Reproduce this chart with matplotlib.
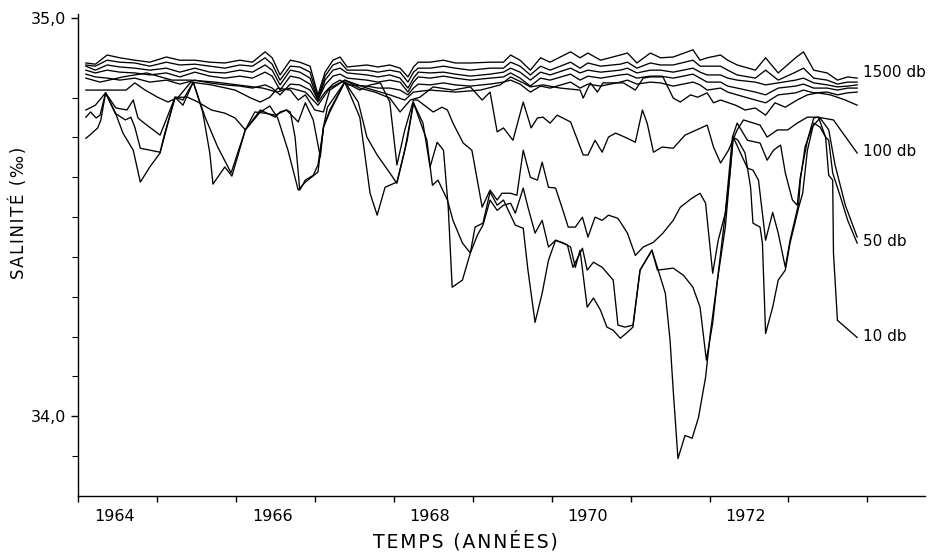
import matplotlib.pyplot as plt
from matplotlib.ticker import FixedLocator, NullFormatter

# salinity (per mille) at several pressures, time in decimal years
t10 = [1964.10, 1964.15, 1964.25, 1964.29, 1964.35, 1964.47, 1964.57, 1964.70, 1964.79, 1964.91,
       1965.04, 1965.14, 1965.23, 1965.33, 1965.46, 1965.58, 1965.67, 1965.71, 1965.86, 1965.95,
       1966.12, 1966.31, 1966.43, 1966.53, 1966.66, 1966.79, 1966.88, 1967.04, 1967.07, 1967.11,
       1967.19, 1967.38, 1967.57, 1967.70, 1967.79, 1967.89, 1968.04, 1968.17, 1968.25, 1968.37,
       1968.46, 1968.55, 1968.63, 1968.69, 1968.74, 1968.87, 1968.97, 1969.03, 1969.13, 1969.22,
       1969.31, 1969.39, 1969.48, 1969.54, 1969.64, 1969.70, 1969.79, 1969.88, 1969.96, 1970.05,
       1970.15, 1970.24, 1970.30, 1970.36, 1970.45, 1970.53, 1970.62, 1970.70, 1970.78, 1970.87,
       1970.96, 1971.03, 1971.12, 1971.27, 1971.35, 1971.44, 1971.50, 1971.54, 1971.60, 1971.69,
       1971.78, 1971.86, 1971.95, 1972.01, 1972.10, 1972.16, 1972.26, 1972.30, 1972.36, 1972.45,
       1972.52, 1972.55, 1972.64, 1972.67, 1972.71, 1972.80, 1972.87, 1972.96, 1973.02, 1973.09,
       1973.13, 1973.18, 1973.24, 1973.32, 1973.40, 1973.47, 1973.51, 1973.56, 1973.57, 1973.62,
       1973.87]
s10 = [34.698, 34.706, 34.724, 34.744, 34.812, 34.764, 34.711, 34.668, 34.588, 34.626,
       34.661, 34.736, 34.801, 34.781, 34.839, 34.764, 34.661, 34.583, 34.626, 34.603,
       34.719, 34.764, 34.779, 34.749, 34.668, 34.568, 34.588, 34.613, 34.661, 34.726,
       34.764, 34.839, 34.751, 34.560, 34.505, 34.575, 34.588, 34.693, 34.787, 34.736,
       34.626, 34.688, 34.668, 34.525, 34.324, 34.342, 34.410, 34.475, 34.485, 34.563,
       34.530, 34.543, 34.505, 34.480, 34.472, 34.367, 34.236, 34.309, 34.392, 34.442,
       34.435, 34.425, 34.374, 34.417, 34.274, 34.297, 34.266, 34.224, 34.216, 34.196,
       34.211, 34.224, 34.367, 34.417, 34.367, 34.309, 34.191, 34.065, 33.894, 33.952,
       33.945, 33.997, 34.098, 34.208, 34.342, 34.442, 34.611, 34.701, 34.693, 34.661,
       34.575, 34.485, 34.475, 34.435, 34.208, 34.274, 34.342, 34.367, 34.435, 34.492,
       34.525, 34.560, 34.668, 34.736, 34.726, 34.701, 34.605, 34.593, 34.410, 34.241,
       34.198]

t30 = [1964.10, 1964.16, 1964.23, 1964.28, 1964.35, 1964.47, 1964.60, 1964.67, 1964.72, 1964.79,
       1965.04, 1965.10, 1965.23, 1965.33, 1965.46, 1965.61, 1965.77, 1965.94,
       1966.12, 1966.31, 1966.50, 1966.56, 1966.64, 1966.69, 1966.75, 1966.81, 1966.88, 1966.98,
       1967.04, 1967.11, 1967.19, 1967.38, 1967.55, 1967.66, 1967.79, 1967.95,
       1968.04, 1968.14, 1968.25, 1968.42, 1968.49, 1968.56, 1968.68, 1968.75, 1968.87, 1968.97,
       1969.06, 1969.13, 1969.22, 1969.31, 1969.39, 1969.48, 1969.54, 1969.64, 1969.70, 1969.79,
       1969.88, 1969.96,
       1970.05, 1970.20, 1970.27, 1970.39, 1970.45, 1970.53, 1970.64, 1970.78, 1970.84, 1970.93,
       1971.03, 1971.12, 1971.27, 1971.34, 1971.54, 1971.67, 1971.79, 1971.88, 1971.96,
       1972.04, 1972.10, 1972.20, 1972.26, 1972.30, 1972.48, 1972.55, 1972.62, 1972.71, 1972.80,
       1972.87, 1972.96,
       1973.02, 1973.13, 1973.15, 1973.21, 1973.30, 1973.40, 1973.51, 1973.59, 1973.72, 1973.87]
s30 = [34.751, 34.764, 34.749, 34.756, 34.812, 34.761, 34.744, 34.751, 34.726, 34.673,
       34.663, 34.711, 34.801, 34.794, 34.839, 34.751, 34.676, 34.611,
       34.719, 34.769, 34.751, 34.764, 34.769, 34.764, 34.701, 34.568, 34.593, 34.605,
       34.631, 34.726, 34.769, 34.839, 34.789, 34.701, 34.656, 34.611,
       34.585, 34.668, 34.787, 34.693, 34.580, 34.593, 34.543, 34.492, 34.435, 34.410,
       34.455, 34.480, 34.543, 34.517, 34.530, 34.535, 34.510, 34.573, 34.525, 34.460,
       34.492, 34.425,
       34.442, 34.430, 34.374, 34.422, 34.367, 34.387, 34.374, 34.342, 34.229, 34.224,
       34.229, 34.367, 34.417, 34.367, 34.372, 34.354, 34.324, 34.274, 34.141,
       34.234, 34.342, 34.475, 34.611, 34.701, 34.623, 34.618, 34.593, 34.442, 34.512,
       34.460, 34.374,
       34.442, 34.535, 34.593, 34.676, 34.726, 34.749, 34.719, 34.631, 34.530, 34.450]

t50 = [1964.10, 1964.22, 1964.35, 1964.48, 1964.62, 1964.70, 1964.76, 1964.82,
       1965.04, 1965.10, 1965.23, 1965.39, 1965.52, 1965.69, 1965.86, 1965.99,
       1966.12, 1966.24, 1966.37, 1966.50, 1966.64, 1966.79, 1966.88, 1966.98,
       1967.07, 1967.11, 1967.16, 1967.38, 1967.57, 1967.70, 1967.83, 1967.95,
       1968.04, 1968.14, 1968.25, 1968.30, 1968.50, 1968.61, 1968.68, 1968.75, 1968.88, 1968.99,
       1969.12, 1969.22, 1969.31, 1969.37, 1969.48, 1969.56, 1969.64, 1969.73, 1969.82, 1969.88,
       1969.96,
       1970.05, 1970.13, 1970.21, 1970.30, 1970.39, 1970.46, 1970.55, 1970.64, 1970.72, 1970.84,
       1970.96,
       1971.06, 1971.16, 1971.29, 1971.41, 1971.54, 1971.63, 1971.78, 1971.88, 1971.95,
       1972.04, 1972.11, 1972.20, 1972.29, 1972.35, 1972.48, 1972.64, 1972.73, 1972.81, 1972.90,
       1972.96,
       1973.05, 1973.11, 1973.15, 1973.24, 1973.32, 1973.38, 1973.47, 1973.51, 1973.56, 1973.66,
       1973.75, 1973.87]
s50 = [34.769, 34.781, 34.812, 34.774, 34.769, 34.794, 34.749, 34.739,
       34.706, 34.736, 34.801, 34.801, 34.789, 34.769, 34.761, 34.749,
       34.719, 34.764, 34.761, 34.756, 34.769, 34.739, 34.787, 34.744,
       34.651, 34.726, 34.776, 34.839, 34.819, 34.832, 34.837, 34.789,
       34.631, 34.719, 34.794, 34.794, 34.764, 34.776, 34.769, 34.736, 34.686, 34.668,
       34.525, 34.568, 34.543, 34.560, 34.560, 34.555, 34.668, 34.600, 34.593, 34.638,
       34.575,
       34.573, 34.525, 34.475, 34.475, 34.500, 34.450, 34.500, 34.492, 34.505, 34.497,
       34.460,
       34.404, 34.425, 34.437, 34.460, 34.492, 34.525, 34.548, 34.560, 34.535,
       34.359, 34.442, 34.510, 34.701, 34.736, 34.693, 34.686, 34.643, 34.668, 34.681,
       34.611,
       34.543, 34.530, 34.600, 34.693, 34.749, 34.751, 34.701, 34.693, 34.611, 34.550,
       34.492, 34.435]

t100 = [1964.10, 1964.35, 1964.61, 1964.72, 1964.85,
        1965.01, 1965.14, 1965.27, 1965.43, 1965.69, 1965.99,
        1966.19, 1966.31, 1966.43, 1966.53, 1966.69, 1966.79, 1966.88,
        1967.00, 1967.11, 1967.19, 1967.38, 1967.57, 1967.76, 1967.95,
        1968.08, 1968.21, 1968.33, 1968.50, 1968.75, 1968.97,
        1969.12, 1969.22, 1969.31, 1969.39, 1969.51, 1969.64, 1969.74, 1969.82, 1969.89, 1969.98,
        1970.07, 1970.24, 1970.40, 1970.46, 1970.55, 1970.64, 1970.72, 1970.81, 1970.96,
        1971.06, 1971.15, 1971.21, 1971.29, 1971.40, 1971.54, 1971.69, 1971.97,
        1972.05, 1972.14, 1972.24, 1972.35, 1972.43, 1972.64, 1972.73, 1972.86, 1972.99,
        1973.11, 1973.24, 1973.37, 1973.57, 1973.66, 1973.87]
s100 = [34.819, 34.819, 34.819, 34.837, 34.819,
        34.801, 34.789, 34.801, 34.839, 34.832, 34.819,
        34.799, 34.789, 34.801, 34.824, 34.819, 34.794, 34.807,
        34.769, 34.764, 34.819, 34.844, 34.824, 34.814, 34.799,
        34.764, 34.794, 34.801, 34.827, 34.819, 34.827,
        34.794, 34.814, 34.714, 34.724, 34.693, 34.789, 34.724, 34.749, 34.751, 34.736,
        34.756, 34.739, 34.656, 34.656, 34.693, 34.663, 34.701, 34.711, 34.698,
        34.688, 34.769, 34.736, 34.663, 34.676, 34.673, 34.706, 34.731,
        34.676, 34.636, 34.668, 34.719, 34.744, 34.731, 34.701, 34.719, 34.719,
        34.736, 34.751, 34.751, 34.744, 34.719, 34.661]

t150 = [1964.10, 1964.28, 1964.57, 1964.87,
        1965.19, 1965.42, 1965.74,
        1966.02, 1966.34, 1966.52, 1966.69, 1966.88,
        1967.04, 1967.19, 1967.38, 1967.66, 1967.95,
        1968.14, 1968.25, 1968.46, 1968.78,
        1969.10, 1969.35, 1969.48, 1969.64, 1969.73, 1969.89,
        1970.11, 1970.36, 1970.40, 1970.49, 1970.58, 1970.65, 1970.91,
        1971.06, 1971.16, 1971.25, 1971.41, 1971.54, 1971.63, 1971.76, 1971.85, 1971.97,
        1972.05, 1972.14, 1972.33, 1972.45, 1972.58, 1972.71, 1972.83, 1972.96,
        1973.11, 1973.24, 1973.37, 1973.53, 1973.72, 1973.87]
s150 = [34.849, 34.839, 34.852, 34.862,
        34.844, 34.844, 34.839,
        34.832, 34.824, 34.814, 34.824, 34.814,
        34.781, 34.824, 34.844, 34.824, 34.807,
        34.794, 34.814, 34.819, 34.814,
        34.819, 34.832, 34.852, 34.837, 34.827, 34.832,
        34.824, 34.819, 34.799, 34.837, 34.814, 34.837, 34.837,
        34.819, 34.849, 34.852, 34.852, 34.799, 34.789, 34.807, 34.801, 34.812,
        34.787, 34.794, 34.781, 34.769, 34.774, 34.756, 34.787, 34.776,
        34.794, 34.807, 34.812, 34.807, 34.794, 34.781]

# deeper levels share the same sampling dates
t_deep = [1964.10, 1964.22, 1964.37, 1964.53, 1964.72, 1964.91, 1965.12, 1965.29, 1965.48, 1965.67,
          1965.86, 1966.05, 1966.21, 1966.37, 1966.46, 1966.56, 1966.69, 1966.81, 1966.94, 1967.04,
          1967.13, 1967.23, 1967.32, 1967.41, 1967.66, 1967.80, 1967.95, 1968.08, 1968.18, 1968.25,
          1968.31, 1968.46, 1968.63, 1968.78, 1968.97, 1969.22, 1969.39, 1969.48, 1969.60, 1969.73,
          1969.86, 1969.98, 1970.24, 1970.36, 1970.46, 1970.62, 1970.87, 1970.96, 1971.08, 1971.25,
          1971.38, 1971.54, 1971.79, 1971.88, 1971.97, 1972.14, 1972.23, 1972.35, 1972.58, 1972.71,
          1972.87, 1973.09, 1973.19, 1973.32, 1973.49, 1973.62, 1973.75, 1973.87]
s200 = [34.859, 34.852, 34.849, 34.844, 34.849, 34.839, 34.844, 34.834, 34.844, 34.837,
        34.832, 34.829, 34.824, 34.832, 34.824, 34.807, 34.834, 34.832, 34.819, 34.789,
        34.814, 34.834, 34.844, 34.832, 34.829, 34.824, 34.824, 34.819, 34.807, 34.824,
        34.834, 34.832, 34.837, 34.832, 34.829, 34.834, 34.839, 34.844, 34.834, 34.814,
        34.829, 34.824, 34.839, 34.824, 34.834, 34.829, 34.839, 34.844, 34.834, 34.839,
        34.837, 34.829, 34.839, 34.832, 34.819, 34.824, 34.814, 34.807, 34.794, 34.787,
        34.807, 34.812, 34.819, 34.812, 34.814, 34.807, 34.812, 34.814]
s400 = [34.869, 34.862, 34.869, 34.864, 34.862, 34.857, 34.862, 34.852, 34.864, 34.854,
        34.849, 34.854, 34.849, 34.864, 34.854, 34.819, 34.854, 34.849, 34.834, 34.794,
        34.832, 34.854, 34.859, 34.849, 34.844, 34.839, 34.844, 34.839, 34.814, 34.839,
        34.852, 34.849, 34.854, 34.849, 34.844, 34.849, 34.852, 34.862, 34.849, 34.829,
        34.849, 34.844, 34.859, 34.844, 34.854, 34.849, 34.857, 34.859, 34.849, 34.854,
        34.854, 34.849, 34.859, 34.849, 34.839, 34.839, 34.829, 34.824, 34.814, 34.807,
        34.824, 34.829, 34.834, 34.824, 34.824, 34.819, 34.824, 34.824]
s600 = [34.879, 34.869, 34.882, 34.877, 34.874, 34.869, 34.874, 34.864, 34.874, 34.864,
        34.862, 34.869, 34.864, 34.882, 34.869, 34.832, 34.869, 34.864, 34.849, 34.794,
        34.844, 34.869, 34.874, 34.862, 34.857, 34.852, 34.857, 34.849, 34.824, 34.849,
        34.864, 34.862, 34.864, 34.859, 34.854, 34.859, 34.864, 34.874, 34.864, 34.844,
        34.864, 34.857, 34.874, 34.862, 34.869, 34.864, 34.869, 34.874, 34.862, 34.869,
        34.869, 34.864, 34.874, 34.864, 34.857, 34.857, 34.849, 34.844, 34.839, 34.832,
        34.837, 34.844, 34.849, 34.837, 34.832, 34.827, 34.829, 34.832]
s1000 = [34.882, 34.879, 34.894, 34.889, 34.887, 34.879, 34.889, 34.882, 34.884, 34.879,
         34.874, 34.882, 34.879, 34.900, 34.884, 34.844, 34.879, 34.877, 34.864, 34.799,
         34.854, 34.882, 34.889, 34.869, 34.869, 34.864, 34.869, 34.864, 34.839, 34.864,
         34.874, 34.874, 34.879, 34.874, 34.869, 34.874, 34.874, 34.889, 34.879, 34.857,
         34.879, 34.869, 34.889, 34.874, 34.887, 34.879, 34.884, 34.889, 34.874, 34.887,
         34.882, 34.882, 34.894, 34.879, 34.879, 34.879, 34.869, 34.857, 34.849, 34.869,
         34.844, 34.864, 34.874, 34.849, 34.844, 34.834, 34.839, 34.839]
s1500 = [34.887, 34.884, 34.907, 34.900, 34.894, 34.889, 34.902, 34.894, 34.894, 34.889,
         34.887, 34.894, 34.889, 34.915, 34.900, 34.857, 34.894, 34.889, 34.879, 34.807,
         34.864, 34.894, 34.902, 34.877, 34.882, 34.877, 34.882, 34.874, 34.852, 34.877,
         34.889, 34.889, 34.894, 34.887, 34.887, 34.889, 34.889, 34.907, 34.894, 34.869,
         34.900, 34.889, 34.915, 34.900, 34.912, 34.894, 34.907, 34.912, 34.887, 34.912,
         34.900, 34.902, 34.920, 34.894, 34.900, 34.907, 34.894, 34.882, 34.869, 34.900,
         34.862, 34.900, 34.915, 34.869, 34.862, 34.844, 34.852, 34.849]

series = [(t10, s10, "10 db"), (t30, s30, None), (t50, s50, "50 db"), (t100, s100, "100 db"),
          (t150, s150, None), (t_deep, s200, None), (t_deep, s400, None), (t_deep, s600, None),
          (t_deep, s1000, None), (t_deep, s1500, "1500 db")]
label_offset = {"10 db": 1, "50 db": 1, "100 db": 1, "1500 db": 4}

year_ticks = list(range(1964, 1975))
year_labels = [1964, 1966, 1968, 1970, 1972]

fig = plt.figure(figsize=(9.36, 5.55), dpi=100)
ax = fig.add_axes([0.0833, 0.1063, 0.905, 0.8685])

for t, s, name in series:
    ax.plot(t, s, color="black", lw=0.95)
    if name:
        ax.annotate(name, xy=(t[-1], s[-1]), xytext=(4, label_offset[name]),
                    textcoords="offset points", va="center", ha="left",
                    fontsize=11, annotation_clip=False)

ax.set_xlim(1964, 1974.73)
ax.set_ylim(33.8, 35.01)

for side in ["top", "right"]:
    ax.spines[side].set_visible(False)
for side in ["left", "bottom"]:
    ax.spines[side].set_linewidth(1.0)

ax.xaxis.set_major_locator(FixedLocator(year_ticks))
ax.xaxis.set_major_formatter(NullFormatter())
ax.xaxis.set_minor_locator(FixedLocator([y + 0.46 for y in year_labels]))
ax.set_xticklabels([str(y) for y in year_labels], minor=True)
ax.tick_params(axis="x", which="major", direction="out", length=4, width=1)
ax.tick_params(axis="x", which="minor", length=0, labelsize=11.5, pad=9)

ax.yaxis.set_major_locator(FixedLocator([34.0, 35.0]))
ax.set_yticklabels(["34,0", "35,0"])
ax.yaxis.set_minor_locator(FixedLocator([33.9 + 0.1 * i for i in range(10) if i != 1]))
ax.tick_params(axis="y", which="major", direction="out", length=5, width=1, labelsize=11.5)
ax.tick_params(axis="y", which="minor", direction="out", length=4, width=0.8)

hs = "\u200a"
fig.text(465 / 936, 1 - 541 / 555, hs.join("TEMPS (ANNÉES)"), ha="center", va="center",
         fontsize=13.5)
fig.text(19 / 936, 1 - 213 / 555, hs.join("SALINITÉ (‰)"), ha="center", va="center",
         rotation=90, fontsize=12)

fig.savefig("out.png", dpi=100)
